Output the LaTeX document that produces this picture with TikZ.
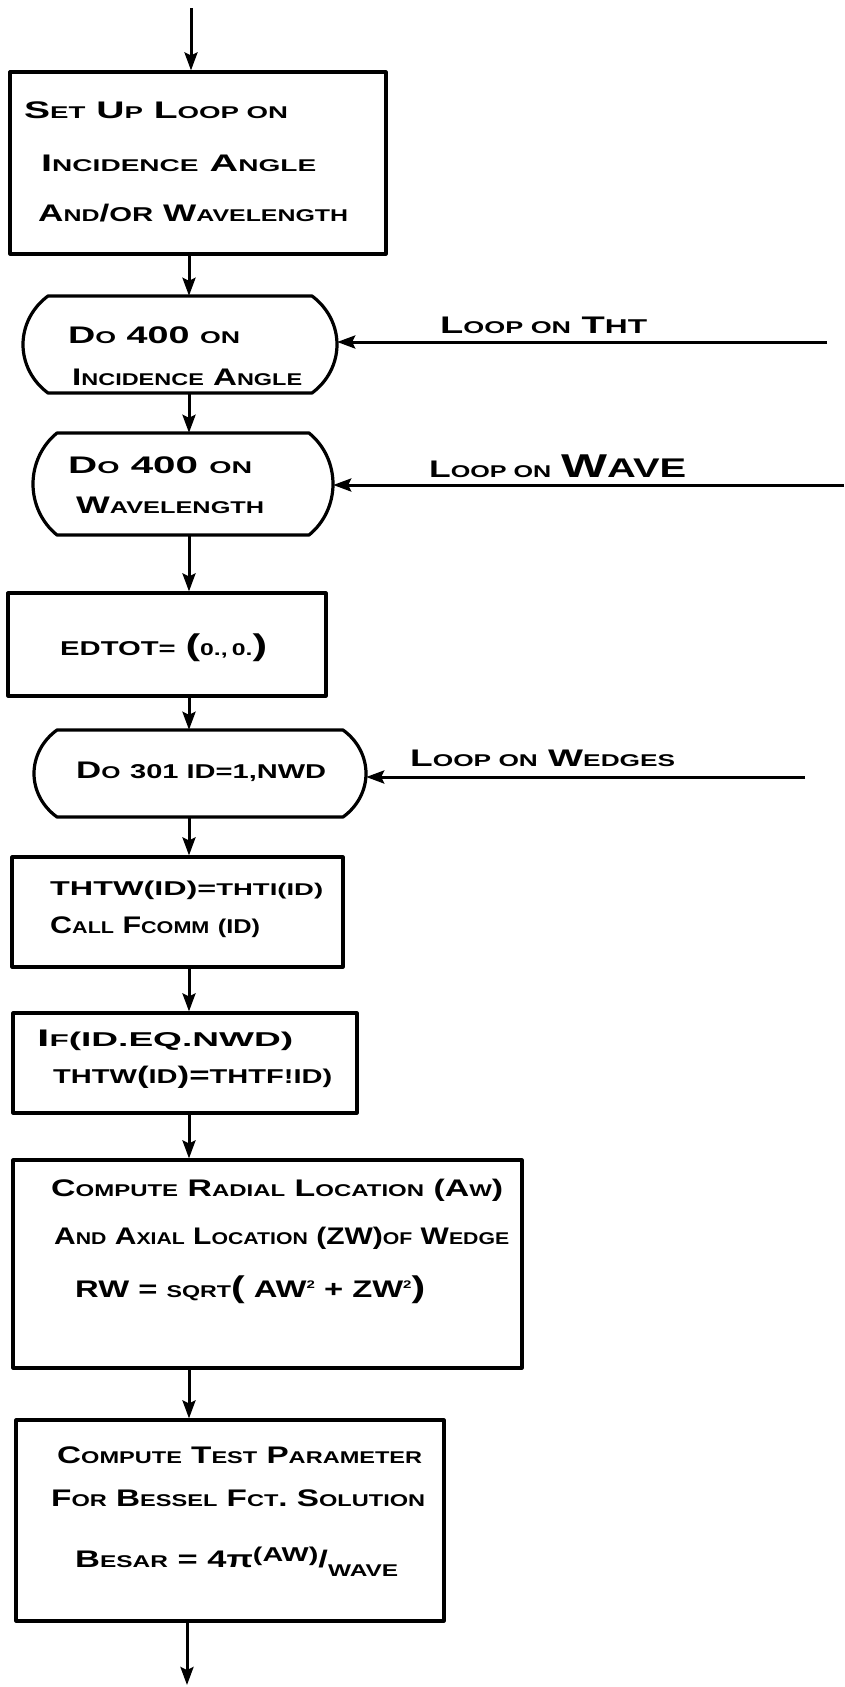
\documentclass[tikz,border=0pt]{standalone}
\usepackage{fontspec}
\usepackage{graphicx}
\usetikzlibrary{arrows.meta,calc}
\newfontfamily\hand{Liberation Sans}
\newcommand\smc[1]{{\fontsize{17}{17}\selectfont #1}}
\newcommand\mdc[1]{{\fontsize{20}{20}\selectfont #1}}
\newcommand\bigw[1]{{\fontsize{33}{33}\selectfont #1}}
\newcommand\bigp[1]{{\fontsize{30}{30}\selectfont #1}}
\newcommand\fitline[2]{\resizebox{#1pt}{\height}{#2}}
\newcommand\termdraw[6]{%
  \pgfmathsetmacro\tmh{(#5-#4)/2}%
  \node[termnode, minimum width={#3-#2}, minimum height={#5-#4}] (#1) at ({(#2+#3)/2},{(#4+#5)/2}) {};
  \draw[boxline] ({#2+#6},#4) -- ({#3-#6},#4)
    .. controls +({0.63*#6},{0.24*\tmh}) and +(0,{-0.39*\tmh}) .. (#3,{#4+\tmh})
    .. controls +(0,{0.39*\tmh}) and +({0.63*#6},{-0.24*\tmh}) .. ({#3-#6},#5)
    -- ({#2+#6},#5)
    .. controls +({-0.63*#6},{-0.24*\tmh}) and +(0,{0.39*\tmh}) .. (#2,{#4+\tmh})
    .. controls +(0,{-0.39*\tmh}) and +({-0.63*#6},{0.24*\tmh}) .. ({#2+#6},#4) -- cycle;
}
\begin{document}
\begin{tikzpicture}[x=1pt,y=-1pt,
  boxline/.style={draw=black, line width=3.2pt, line join=round},
  boxnode/.style={boxline, rectangle, inner sep=0pt},
  termnode/.style={rectangle, inner sep=0pt},
  flow/.style={line width=3pt, -{Stealth[length=18pt,width=13pt,inset=3pt]}},
  txt/.style={anchor=west, inner sep=0pt, font=\hand\bfseries\fontsize{24}{24}\selectfont},
]
\useasboundingbox[fill=white] (0,0) rectangle (844,1687);

% boxes
\node[boxnode, minimum width=376, minimum height=182] (b1) at (198,163) {};
\termdraw{t1}{23}{337}{296}{393}{25}
\termdraw{t2}{33}{333}{433}{535}{24}
\node[boxnode, minimum width=318, minimum height=103] (b2) at (167,644.5) {};
\termdraw{t3}{34}{366}{730}{817}{23}
\node[boxnode, minimum width=331, minimum height=110] (b3) at (177.5,912) {};
\node[boxnode, minimum width=344, minimum height=100] (b4) at (185,1063) {};
\node[boxnode, minimum width=509, minimum height=208] (b5) at (267.5,1264) {};
\node[boxnode, minimum width=428, minimum height=201] (b6) at (230,1520.5) {};

% spine and free ends
\coordinate (spine) at (189,0);
\coordinate (start) at (191,8);
\coordinate (finish) at (187,1685);
\coordinate (thtEnd) at (827,342);
\coordinate (waveEnd) at (844,485);
\coordinate (wedgeEnd) at (805,777);

% vertical flow
\draw[flow] (start) -- (start |- b1.north);
\draw[flow] (b1.south -| spine) -- (t1.north -| spine);
\draw[flow] (t1.south -| spine) -- (t2.north -| spine);
\draw[flow] (t2.south -| spine) -- (b2.north -| spine);
\draw[flow] (b2.south -| spine) -- (t3.north -| spine);
\draw[flow] (t3.south -| spine) -- (b3.north -| spine);
\draw[flow] (b3.south -| spine) -- (b4.north -| spine);
\draw[flow] (b4.south -| spine) -- (b5.north -| spine);
\draw[flow] (b5.south -| spine) -- (b6.north -| spine);
\draw[flow] (b6.south -| finish) -- (finish);

% loop-back lines
\draw[flow] (thtEnd) -- (t1.east |- thtEnd);
\draw[flow] (waveEnd) -- (t2.east |- waveEnd);
\draw[flow] (wedgeEnd) -- (t3.east |- wedgeEnd);

% texts
\node[txt] (b1a) at (24,110) {\fitline{264}{S\smc{ET} U\smc{P} L\smc{OOP ON}}};
\node[txt] (b1b) at (41,163) {\fitline{275}{I\smc{NCIDENCE} A\smc{NGLE}}};
\node[txt] (b1c) at (38,213) {\fitline{310}{A\smc{ND}/\mdc{OR} W\smc{AVELENGTH}}};

\node[txt] (t1a) at (68,335) {\fitline{172}{D\smc{O} 400 \smc{ON}}};
\node[txt] (t1b) at (72,377) {\fitline{230}{I\smc{NCIDENCE} A\smc{NGLE}}};

\node[txt] (t2a) at (68,465) {\fitline{184}{D\smc{O} 400 \smc{ON}}};
\node[txt] (t2b) at (76,505) {\fitline{188}{W\smc{AVELENGTH}}};

\node[txt] (l1) at (440,325) {\fitline{207}{L\smc{OOP ON} T\mdc{HT}}};
\node[txt] (l2) at (429,466) {\fitline{257}{L\smc{OOP ON} \bigw{W}{\fontsize{27}{27}\selectfont AVE}}};
\node[txt] (l3) at (410,758) {\fitline{265}{L\smc{OOP ON} W\smc{EDGES}}};

\node[txt] (b2a) at (60,648) {\fitline{207}{\mdc{EDTOT=} \bigp{(}\smc{0.,\,0.}\bigp{)}}};

\node[txt] (t3a) at (76,772) {\fitline{250}{D\smc{O} \mdc{301 ID=1,NWD}}};

\node[txt] (b3a) at (50,890) {\fitline{273}{\mdc{THTW(ID)=}\smc{THTI(ID)}}};
\node[txt] (b3b) at (50,927) {\fitline{210}{C\smc{ALL} F\smc{COMM} \mdc{(ID)}}};

\node[txt] (b4a) at (37,1040) {\fitline{256}{I\smc{F}\mdc{(ID.EQ.NWD)}}};
\node[txt] (b4b) at (53,1077) {\fitline{279}{\mdc{THTW}(\mdc{ID})=\mdc{THTF!ID)}}};

\node[txt] (b5a) at (51,1190) {\fitline{452}{C\smc{OMPUTE} R\smc{ADIAL} L\smc{OCATION} (A\smc{W})}};
\node[txt] (b5b) at (54,1238) {\fitline{455}{A\smc{ND} A\smc{XIAL} L\smc{OCATION} (ZW)\smc{OF} W\smc{EDGE}}};
\node[txt] (b5c) at (75,1290) {\fitline{350}{RW = \smc{SQRT}\bigp{(} AW\raisebox{9pt}{\fontsize{11}{11}\selectfont 2} + ZW\raisebox{9pt}{\fontsize{11}{11}\selectfont 2}\bigp{)}}};

\node[txt] (b6a) at (57,1455) {\fitline{365}{C\smc{OMPUTE} T\smc{EST} P\smc{ARAMETER}}};
\node[txt] (b6b) at (51,1498) {\fitline{374}{F\smc{OR} B\smc{ESSEL} F\smc{CT}. S\smc{OLUTION}}};
\node[txt] (b6c) at (75,1562) {\fitline{323}{B\smc{ESAR} = 4π\raisebox{6pt}{\mdc{(AW)}}/\raisebox{-9pt}{\smc{WAVE}}}};
\end{tikzpicture}
\end{document}
